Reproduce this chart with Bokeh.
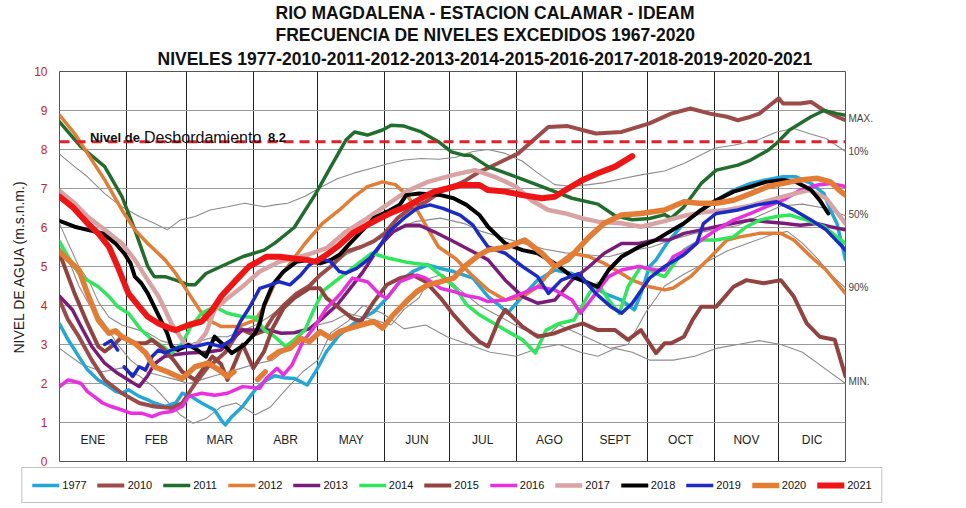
from bokeh.plotting import figure
from bokeh.models import (Span, Label, Legend, LegendItem, FixedTicker, Range1d, ColumnDataSource,
                          Title, LinearAxis)
from bokeh.embed import file_html
from bokeh.resources import INLINE
from bokeh.core.properties import value

NaN = float("nan")
FONT = "Liberation Sans"

TITLE_LINES = ["RIO MAGDALENA - ESTACION CALAMAR - IDEAM",
               "FRECUENCIA DE NIVELES EXCEDIDOS 1967-2020",
               "NIVELES 1977-2010-2011-2012-2013-2014-2015-2016-2017-2018-2019-2020-2021"]
MONTHS = ["ENE", "FEB", "MAR", "ABR", "MAY", "JUN", "JUL", "AGO", "SEPT", "OCT", "NOV", "DIC"]
MONTH_DAYS = [31, 28, 31, 30, 31, 30, 31, 31, 30, 31, 30, 31]
OVERFLOW = 8.2
Y_TICKS = [0, 1, 2, 3, 4, 5, 6, 7, 8, 9, 10]

# day of year / level (m.s.n.m.)
D1977 = [0,4,9,13,18,23,26,29,32,37,41,44,49,54,57,61,66,72,75,77,80,85,91,95,100,104,109,115,119,124,130,138,146,152,158,164,171,177,183,192,199,205,208,215,222,230,238,246,253,261,267,270,274,277,282,290,298,305,313,321,328,336,342,349,355,358,361,365]
V1977 = [3.53,3.12,2.69,2.35,2.09,1.92,1.8,1.75,1.84,1.67,1.58,1.5,1.41,1.5,1.75,1.67,1.5,1.32,1.07,0.94,1.15,1.41,1.85,2.05,2.2,2.15,2.13,1.96,2.31,2.82,3.25,3.59,3.84,4.19,4.61,4.87,5.04,4.95,4.87,4.7,4.23,3.97,3.8,4.23,4.65,4.91,4.82,4.57,4.31,4.14,3.89,4.31,5.0,5.17,5.59,6.11,6.45,6.7,6.96,7.13,7.22,7.3,7.3,7.13,6.87,6.45,6.11,5.17]

D2010 = [0,4,9,15,21,29,37,44,52,57,60,63,69,73,77,84,90,95,99,104,110,116,121,126,133,140,146,151,157,163,170,177,183,189,195,200,213,227,236,249,261,274,284,293,302,310,315,321,325,330,334,336,344,349,355,361,365]
V2010 = [4.14,3.63,3.2,2.6,2.09,1.75,1.5,1.41,1.37,1.5,1.75,2.0,2.43,2.6,2.8,3.4,3.25,3.35,3.7,4.0,4.3,4.5,4.78,5.0,5.38,5.5,5.65,5.85,6.24,6.49,6.65,6.92,7.05,7.22,7.43,7.55,7.9,8.58,8.6,8.41,8.45,8.67,8.92,9.05,8.92,8.84,8.75,8.84,8.92,9.14,9.31,9.18,9.18,9.22,9.0,8.84,8.75]

D2011 = [0,10,21,29,35,41,44,49,54,60,63,68,75,85,95,100,109,119,126,133,137,143,150,154,160,168,176,182,188,191,199,212,224,238,250,258,266,274,281,284,290,298,305,315,321,329,333,339,349,355,361,365]
V2011 = [8.71,8.07,7.56,6.79,5.94,5.0,4.74,4.74,4.65,4.53,4.53,4.82,5.0,5.25,5.42,5.6,6.0,6.87,7.56,8.24,8.45,8.37,8.5,8.62,8.6,8.45,8.2,7.94,7.85,7.85,7.56,7.3,7.05,6.75,6.6,6.3,6.2,6.23,6.33,6.24,6.53,7.13,7.47,7.6,7.73,7.98,8.16,8.5,8.84,9.0,8.92,8.88]

D2012 = [0,7,13,21,29,35,41,49,54,60,65,69,75,83,91,95,100,106,114,122,130,137,143,150,156,161,165,170,176,184,191,199,207,215,222,230,238,246,253,261,266,274,281,285,293,301,310,316,325,335,341,349,356,365]
V2012 = [8.88,8.41,7.9,7.22,6.45,5.94,5.59,5.17,4.82,4.31,3.89,3.63,3.46,3.46,3.63,3.97,4.57,5.0,5.59,6.1,6.45,6.8,7.05,7.17,7.1,6.85,6.55,6.07,5.5,5.2,4.8,4.4,4.14,4.22,4.48,5.0,5.34,5.25,5.08,4.82,4.65,4.48,4.4,4.45,4.74,5.17,5.68,5.76,5.85,5.85,5.68,5.25,4.91,4.31]

D2013 = [0,6,10,15,21,27,32,37,41,44,49,55,60,68,75,80,85,90,97,103,109,116,122,129,135,141,149,155,161,167,174,183,192,199,207,215,222,230,238,246,253,261,269,277,283,290,298,305,313,321,328,336,344,352,358,365]
V2013 = [4.24,3.89,3.46,2.95,2.52,2.26,2.09,1.92,2.2,2.5,2.7,2.75,2.78,2.8,2.86,3.12,3.37,3.37,3.37,3.29,3.3,3.4,3.67,4.02,4.44,4.87,5.55,5.89,6.06,6.06,5.89,5.64,5.38,5.17,4.65,4.23,4.06,4.14,4.65,5.0,5.34,5.59,5.59,5.68,5.68,5.85,5.94,6.02,6.11,6.19,6.15,6.11,6.06,6.1,6.02,5.94]

D2014 = [0,4,9,13,18,23,27,32,38,43,48,52,57,61,66,72,78,85,91,95,100,105,109,114,119,123,130,137,145,153,162,171,177,184,189,195,199,207,215,221,226,232,239,246,250,255,260,264,270,277,281,290,298,305,313,319,325,333,339,347,355,361,365]
V2014 = [5.64,5.25,4.82,4.65,4.48,4.23,3.97,3.8,3.37,3.12,2.95,2.78,3.03,3.46,3.8,3.97,3.8,3.71,3.7,3.37,3.2,2.95,3.12,3.37,4.0,4.4,4.7,5.0,5.34,5.21,5.1,5.04,4.78,4.44,4.02,3.76,3.63,3.37,3.12,2.78,3.37,3.54,3.63,4.31,4.57,4.14,3.8,4.48,5.0,4.82,4.74,5.42,5.68,5.68,5.76,6.02,6.19,6.28,6.32,6.19,6.02,5.76,5.59]

D2015 = [0,7,13,18,21,26,29,35,40,43,48,53,57,63,67,71,75,78,82,85,90,95,99,104,109,116,121,124,130,136,140,146,152,158,164,170,177,183,190,195,199,204,207,215,222,230,238,243,250,258,264,270,277,281,284,290,294,298,305,313,319,327,335,341,347,353,360,365]
V2015 = [5.34,4.31,3.54,2.95,2.82,3.03,3.2,3.03,3.03,3.12,2.9,2.6,2.3,2.09,2.4,2.69,2.5,2.09,2.6,3.0,2.39,2.82,3.42,3.93,4.19,4.44,4.44,4.19,3.93,3.67,3.59,4.1,4.53,4.7,4.78,4.61,4.19,3.76,3.33,3.07,2.95,3.63,3.89,3.46,3.2,3.29,3.46,3.54,3.37,3.37,3.12,3.37,2.78,3.03,3.03,3.2,3.63,3.97,3.97,4.48,4.65,4.57,4.65,4.23,3.54,3.2,3.12,2.18]

D2016 = [0,4,7,10,13,16,20,24,29,33,38,43,47,52,57,60,66,72,78,85,93,96,101,104,108,113,118,124,130,136,143,149,152,158,166,170,177,183,189,195,199,207,215,222,230,238,242,249,255,261,269,277,281,285,291,298,305,313,321,328,336,344,352,358,365]
V2016 = [1.92,2.09,2.05,2.0,1.79,1.67,1.5,1.41,1.32,1.24,1.24,1.15,1.24,1.28,1.41,1.67,1.75,1.7,1.75,1.92,1.88,2.13,2.39,2.22,2.48,3.07,3.42,3.93,4.27,4.7,4.61,4.27,4.19,4.61,4.78,4.7,4.44,4.36,4.25,4.19,4.1,4.14,4.31,4.48,4.4,4.14,3.8,4.31,4.74,4.91,5.0,4.91,4.91,5.25,5.42,5.68,5.94,6.19,6.36,6.53,6.7,6.96,7.09,7.13,7.05]

D2017 = [0,7,13,21,29,35,41,46,49,52,55,58,63,68,72,77,84,93,102,115,124,133,143,152,161,171,183,193,202,212,219,227,235,243,250,261,270,280,290,300,310,320,330,340,348,356,365]
V2017 = [6.94,6.62,6.28,5.94,5.59,5.17,4.65,4.23,3.89,3.54,3.29,3.03,2.95,3.29,3.89,4.14,4.44,4.87,5.12,5.3,5.47,5.89,6.24,6.58,6.92,7.17,7.35,7.47,7.3,7.05,6.7,6.45,6.36,6.23,6.15,6.11,6.02,6.15,6.3,6.4,6.45,6.55,6.7,6.85,6.96,6.75,6.1]

D2018 = [0,7,13,20,26,30,33,35,38,41,44,47,50,52,55,60,64,68,72,77,80,86,91,93,95,99,104,110,116,121,126,130,135,140,146,152,158,161,167,177,183,189,195,199,207,215,222,230,238,246,250,255,261,269,277,282,290,298,305,313,321,328,336,342,349,353,357]
V2018 = [6.17,6.02,5.94,5.85,5.59,5.34,5.08,4.74,4.57,4.31,3.97,3.63,3.29,2.95,2.86,2.99,2.86,2.69,3.2,2.95,2.78,3.0,3.3,3.54,4.01,4.53,4.87,5.12,5.17,5.08,5.17,5.3,5.6,5.89,6.24,6.4,6.58,6.83,6.87,6.83,6.75,6.58,6.32,6.02,5.59,5.42,5.34,5.08,4.74,4.57,4.48,4.91,5.25,5.5,5.68,5.85,6.11,6.45,6.7,6.92,7.05,7.17,7.22,7.17,6.96,6.7,6.36]

D2019 = [21,24,27,27.5,30,34,37,40,43,46,49,52,57,63,69,75,80,84,88,93,98,102,107,112,116,121,126,130,133,138,144,149,153,160,166,172,178,186,192,195,199,207,215,222,227,233,241,249,256,261,266,274,281,290,296,299,305,315,324,333,341,349,356,365]
V2019 = [3.0,3.1,2.86,NaN,2.43,2.18,2.43,2.35,2.69,2.86,2.78,2.86,2.95,2.95,3.03,2.95,3.12,3.59,3.93,4.44,4.53,4.61,4.53,4.78,5.04,5.21,5.12,4.87,4.83,4.95,5.21,5.55,5.89,6.24,6.49,6.58,6.49,6.32,6.06,5.81,5.5,5.34,5.0,4.74,4.31,4.65,4.82,4.31,3.97,3.8,4.06,4.7,5.0,5.3,5.6,6.1,6.36,6.45,6.58,6.66,6.45,6.19,5.94,5.42]

D2020 = [0,4,9,13,18,23,26,29,35,40,44,50,57,63,69,74,78,81,81.5,92,95.5,96,97.5,102,107,112,116,121,126,130,135,140,146,150,155,161,166,171,177,183,189,195,199,208,216,224,230,236,246,253,261,270,281,290,297,305,313,321,329,336,344,352,358,362,365]
V2020 = [5.38,5.17,4.91,4.31,3.63,3.29,3.35,3.2,3.03,2.78,2.43,2.3,2.13,2.43,2.52,2.35,2.18,2.3,NaN,2.1,2.3,NaN,2.65,2.82,2.9,3.16,3.07,3.33,3.16,3.33,3.42,3.5,3.59,3.42,3.76,4.1,4.36,4.53,4.61,4.7,5.04,5.3,5.42,5.5,5.68,5.34,5.0,5.17,5.76,6.11,6.32,6.36,6.45,6.66,6.62,6.62,6.7,6.87,7.05,7.13,7.22,7.26,7.17,6.96,6.83]

D2021 = [0,6,13,18,23,27,32,37,41,46,51,54,60,66,71,75,82,88,92,96,102,108,115,119,124,130,136,143,149,155,161,168,174,180,186,195,199,207,215,224,230,235,243,250,258,266]
V2021 = [6.79,6.53,6.11,5.85,5.5,5.0,4.31,3.97,3.71,3.54,3.42,3.37,3.5,3.59,3.89,4.23,4.65,5.0,5.12,5.25,5.25,5.21,5.17,5.12,5.3,5.55,5.85,6.07,6.24,6.4,6.53,6.75,6.92,7.0,7.09,7.09,6.96,6.92,6.83,6.75,6.79,6.96,7.22,7.39,7.56,7.83]

# exceedance-frequency curves 1967-2020
DP10 = [0,7,13,21,29,37,44,50,56,63,70,78,86,95,100,106,114,122,129,137,145,153,160,168,176,184,192,199,207,215,222,230,238,246,253,261,270,281,290,304,313,324,333,341,348,356,365]
VP10 = [7.88,7.56,7.3,6.87,6.53,6.28,6.11,5.94,6.19,6.28,6.45,6.53,6.62,6.53,6.58,6.62,6.8,7.05,7.25,7.4,7.52,7.64,7.73,7.77,7.75,7.8,7.95,8.0,7.9,7.7,7.4,7.1,7.05,7.1,7.15,7.25,7.35,7.45,7.64,8.03,8.11,8.24,8.45,8.54,8.41,8.28,7.95]
DP50 = [0,4,9,14,18,23,29,35,41,47,53,60,66,72,78,85,91,97,104,111,119,126,133,141,149,158,165,177,188,196,205,215,225,235,245,255,265,275,285,295,305,315,325,335,345,355,365]
VP50 = [6.1,5.6,5.0,4.6,4.1,3.7,3.5,3.4,3.3,3.1,3.0,3.0,3.1,3.2,3.2,3.35,3.5,3.7,4.0,4.3,4.7,5.0,5.3,5.5,5.72,6.0,6.15,6.24,6.1,5.9,5.75,5.6,5.45,5.35,5.3,5.25,5.4,5.5,5.7,5.85,5.95,6.05,6.3,6.55,6.6,6.5,6.3]
DP90 = [0,4,9,14,20,27,33,40,47,54,60,66,72,79,85,91,99,106,113,120,127,134,141,148,154,160,167,172,178,186,195,205,215,226,232,240,248,256,264,272,281,290,300,310,320,330,338,345,352,358,365]
VP90 = [5.5,5.2,4.5,4.0,3.6,3.0,2.6,2.3,2.2,2.1,2.0,2.1,2.2,2.3,2.4,2.5,2.6,2.9,3.3,3.5,3.6,3.8,3.7,3.6,3.5,3.9,4.2,4.7,4.8,4.4,4.0,3.7,3.4,3.2,3.5,3.3,3.1,2.9,3.0,3.8,4.5,4.8,5.1,5.4,5.6,5.8,5.9,5.6,5.2,4.8,4.45]
DMIN = [0,10,20,29,37,44,50,56,62,68,75,82,91,98,106,113,120,126,134,141,150,160,170,180,190,200,212,222,232,242,250,258,266,274,285,295,305,315,325,335,345,355,365]
VMIN = [2.9,2.5,2.3,2.4,2.2,1.9,1.55,1.2,0.98,1.1,1.4,1.5,1.2,1.4,1.9,2.3,2.6,3.3,3.6,4.0,3.8,3.4,3.5,3.2,3.0,2.8,2.7,2.9,3.0,2.8,2.7,2.9,2.8,2.6,2.6,2.7,2.9,3.0,3.1,3.0,2.8,2.4,2.0]

RIGHT_LABELS = ["MAX.", "10%", "50%", "90%", "MIN."]
RIGHT_LEVELS = [8.8, 7.94, 6.33, 4.46, 2.05]

SERIES = [
    ("1977", D1977, V1977, "#21a7da", 3.5),
    ("2010", D2010, V2010, "#9d4b48", 4),
    ("2011", D2011, V2011, "#1f6e2c", 3.5),
    ("2012", D2012, V2012, "#e57c34", 3.5),
    ("2013", D2013, V2013, "#7b1c7b", 3.5),
    ("2014", D2014, V2014, "#2de858", 3.5),
    ("2015", D2015, V2015, "#93433f", 4),
    ("2016", D2016, V2016, "#ea2ee0", 3.5),
    ("2017", D2017, V2017, "#d9a3a4", 4.5),
    ("2018", D2018, V2018, "#000000", 4),
    ("2019", D2019, V2019, "#1b2bc9", 3.5),
    ("2020", D2020, V2020, "#e57c34", 5.5),
    ("2021", D2021, V2021, "#f01414", 6),
]

p = figure(frame_width=786, frame_height=390,
           x_range=Range1d(0, 365), y_range=Range1d(0, 10), x_axis_location=None,
           output_backend="svg", toolbar_location=None, title=None,
           min_border_left=59, min_border_right=110, min_border_top=70, min_border_bottom=40)
p.background_fill_color = "white"
p.border_fill_color = "white"
p.outline_line_color = "#555555"

month_starts = []
acc = 0
for md in MONTH_DAYS[:-1]:
    acc += md
    month_starts.append(acc)
p.xgrid.ticker = FixedTicker(ticks=month_starts)
p.xgrid.grid_line_color = "#222222"
p.xgrid.grid_line_width = 1

p.yaxis.ticker = FixedTicker(ticks=Y_TICKS)
p.ygrid.ticker = FixedTicker(ticks=Y_TICKS[1:-1])
p.ygrid.grid_line_color = "#9a9a9a"
p.ygrid.grid_line_width = 1
p.yaxis.major_tick_line_color = None
p.yaxis.major_tick_out = 0
p.yaxis.major_tick_in = 0
p.yaxis.minor_tick_line_color = None
p.yaxis.axis_line_color = None
p.yaxis.major_label_text_color = "#cc2222"
p.yaxis.major_label_text_font = FONT
p.yaxis.major_label_text_font_size = "12px"
p.yaxis.major_label_standoff = 12
p.yaxis.axis_label = "NIVEL DE AGUA (m.s.n.m.)"
p.yaxis.axis_label_text_font = FONT
p.yaxis.axis_label_text_font_style = "normal"
p.yaxis.axis_label_text_font_size = "14px"
p.yaxis.axis_label_text_color = "#222222"
p.yaxis.axis_label_standoff = 4

# labels of the frequency curves on the right side
raxis = LinearAxis(ticker=FixedTicker(ticks=RIGHT_LEVELS),
                   major_label_overrides={lev: txt for lev, txt in zip(RIGHT_LEVELS, RIGHT_LABELS)})
raxis.major_tick_line_color = None
raxis.major_tick_out = 0
raxis.minor_tick_line_color = None
raxis.axis_line_color = None
raxis.major_label_standoff = 3
raxis.major_label_text_font = FONT
raxis.major_label_text_font_size = "10px"
raxis.major_label_text_color = "#444444"
p.add_layout(raxis, "right")

# month names inside the bottom band
mids = []
acc = 0
for md in MONTH_DAYS:
    mids.append(acc + md / 2)
    acc += md
msrc = ColumnDataSource(dict(x=mids, y=[0.55] * 12, t=MONTHS))
p.text(x="x", y="y", text="t", source=msrc, text_align="center", text_baseline="middle",
       text_font=value(FONT), text_font_size="12px", text_color="#222222")

# frequency curves
for dd, vv in [(DP10, VP10), (DP50, VP50), (DP90, VP90), (DMIN, VMIN)]:
    p.line(dd, vv, line_color="#8c8c8c", line_width=1.1)

# overflow level
p.add_layout(Span(location=OVERFLOW, dimension="width", line_color="#e2202a",
                  line_dash="10 6", line_width=3))
p.add_layout(Label(x=14.2, y=OVERFLOW + 0.1, text="Nivel de", text_font=FONT, text_font_size="13px",
                   text_font_style="bold", text_color="#111111", text_baseline="alphabetic"))
p.add_layout(Label(x=39.2, y=OVERFLOW + 0.1, text="Desbordamiento", text_font=FONT, text_font_size="16px",
                   text_color="#111111", text_baseline="alphabetic"))
p.add_layout(Label(x=96.8, y=OVERFLOW + 0.1, text=str(OVERFLOW), text_font=FONT, text_font_size="13px",
                   text_font_style="bold", text_color="#111111", text_baseline="alphabetic"))

items = []
for name, dd, vv, col, lw in SERIES:
    r = p.line(dd, vv, line_color=col, line_width=lw, line_join="round", line_cap="round")
    items.append(LegendItem(label=name, renderers=[r]))

legend = Legend(items=items, location="top_center", orientation="horizontal",
                glyph_width=27, glyph_height=14, label_standoff=3, spacing=11,
                padding=10, margin=6, border_line_color="#8a8a8a", border_line_width=1,
                background_fill_color="white", background_fill_alpha=1.0,
                label_text_font=FONT, label_text_font_size="11px", label_text_color="#111111")
p.add_layout(legend, "below")

# titles (added bottom-up)
TITLE_OFFSETS = [216, 216, 98]
for i, (t, off) in reversed(list(enumerate(zip(TITLE_LINES, TITLE_OFFSETS)))):
    p.add_layout(Title(text=t, align="left", offset=off, standoff=(5 if i == 2 else 0),
                       text_font=FONT, text_line_height=0.9,
                       text_font_size="17.5px", text_font_style="bold", text_color="#111111"),
                 "above")

open("out.html", "w").write(file_html(p, INLINE))
